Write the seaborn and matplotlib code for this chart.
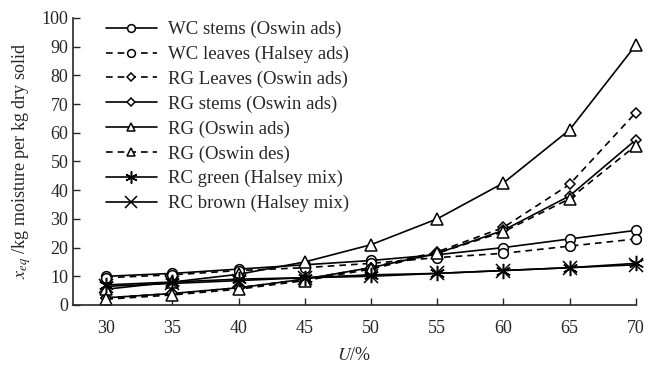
import matplotlib
matplotlib.use("Agg")
import matplotlib.pyplot as plt
import seaborn as sns
import pandas as pd

U = [30, 35, 40, 45, 50, 55, 60, 65, 70]
wc_stems = [10, 11, 12.5, 14, 15.5, 17.5, 20, 23, 26]
wc_leaves = [9.5, 10.5, 12, 13, 14.5, 16.5, 18, 20.5, 23]
rg_leaves = [2.5, 4, 6, 9, 13, 18.5, 27, 42, 67]
rg_stems = [2.5, 4, 6, 9, 13, 18, 26, 38, 57.5]
rg_ads = [5.5, 8, 10.7, 15, 21, 30, 42.5, 61, 90.5]
rg_des = [2, 3.5, 5.5, 8.5, 12.5, 18, 25.5, 37, 55.5]
rc_green = [7, 8, 9, 9.5, 10.5, 11, 12, 13, 14.5]
rc_brown = [6.5, 7.5, 8.5, 9.5, 10, 11, 12, 13, 14]

labels = ["WC stems (Oswin ads)", "WC leaves (Halsey ads)", "RG Leaves (Oswin ads)",
          "RG stems (Oswin ads)", "RG (Oswin ads)", "RG (Oswin des)",
          "RC green (Halsey mix)", "RC brown (Halsey mix)"]
series = [wc_stems, wc_leaves, rg_leaves, rg_stems, rg_ads, rg_des, rc_green, rc_brown]

sns.set_style("ticks")
plt.rcParams['font.family'] = ['Liberation Serif', 'DejaVu Serif']
plt.rcParams['mathtext.fontset'] = 'stix'

styles = [
    dict(marker='o', ls='-', ms=7),
    dict(marker='o', ls='--', ms=7),
    dict(marker='D', ls='--', ms=5),
    dict(marker='D', ls='-', ms=5),
    dict(marker='^', ls='-', ms=8),
    dict(marker='^', ls='--', ms=8),
    dict(marker=(6, 2, 0), ls='-', ms=11),
    dict(marker='x', ls='-', ms=10),
]

fig = plt.figure(figsize=(6.48, 3.67), dpi=100)
ax = fig.add_axes([0.113, 0.169, 0.868, 0.782])

for lab, vals, st in zip(labels, series, styles):
    df = pd.DataFrame({"U": U, "x": vals})
    sns.lineplot(data=df, x="U", y="x", ax=ax, color='black', lw=1.2,
                 marker=st['marker'], markersize=st['ms'], markerfacecolor='white',
                 markeredgecolor='black', markeredgewidth=1.1, label=lab,
                 linestyle=st['ls'], dashes=False, clip_on=False)
for line in ax.get_lines():
    if line.get_linestyle() == '--':
        line.set_dashes((4, 3))

ax.set_xlim(27.5, 70)
ax.set_ylim(0, 100)
ax.set_xticks([30, 35, 40, 45, 50, 55, 60, 65, 70])
ax.set_yticks(range(0, 101, 10))
ax.tick_params(direction='in', labelsize=13, length=5, width=1)
ax.tick_params(axis='x', pad=11)
for s in ['top', 'right']:
    ax.spines[s].set_visible(False)
for s in ['left', 'bottom']:
    ax.spines[s].set_linewidth(1.2)

ax.set_xlabel("$U$/%", fontsize=13, labelpad=7)
ax.set_ylabel("$x_{eq}$ /kg moisture per kg dry solid", fontsize=13, labelpad=6)

leg = ax.legend(loc='upper left', bbox_to_anchor=(0.045, 1.015), frameon=False,
                fontsize=13.5, handlelength=2.7, handletextpad=0.6, labelspacing=0.4,
                borderaxespad=0, markerscale=0.8)
for h in leg.get_lines():
    h.set_color('black')

fig.savefig("out.png", dpi=100)
